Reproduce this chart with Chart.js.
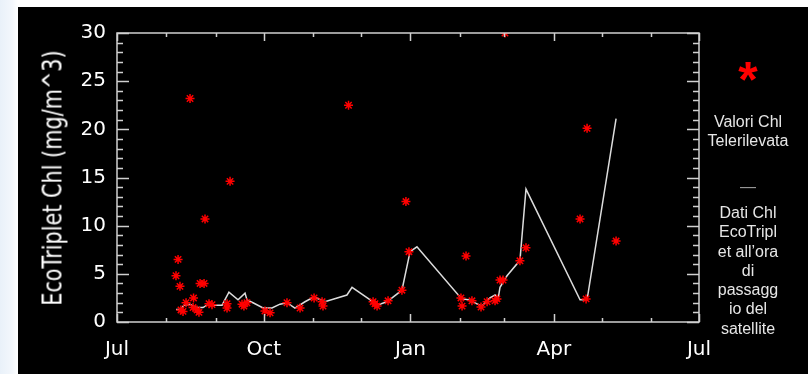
<!DOCTYPE html>
<html>
<head>
<meta charset="utf-8">
<script src="https://cdn.jsdelivr.net/npm/chart.js@4/dist/chart.umd.min.js"></script>
<style>
  html, body { margin: 0; padding: 0; }
  body {
    width: 808px; height: 374px; position: relative; overflow: hidden;
    background: linear-gradient(90deg, #e9f1f9 0px, #f3f7fc 12px, #ffffff 18px);
  }
  #panel { position: absolute; left: 18px; top: 7px; width: 790px; height: 367px; background: #000; }
  #chl { position: absolute; left: 0; top: 0; }
  #ytitle {
    position: absolute; left: 52px; top: 178px; color: #fff;
    font-family: "DejaVu Sans", sans-serif; font-size: 27px; white-space: nowrap;
    transform: translate(-50%, -50%) rotate(-90deg) scaleX(0.77);
  }
  .leg { position: absolute; color: #e6e6e6; font-family: "Liberation Sans", Arial, sans-serif;
         font-size: 16px; line-height: 19.3px; text-align: center; width: 100px; left: 698px; }
  #star { position: absolute; left: 698px; width: 100px; top: 55px; text-align: center;
          color: #ff0000; font-family: "Liberation Sans", Arial, sans-serif; font-size: 50px; font-weight: bold; line-height: 50px; }
</style>
</head>
<body>
<div id="panel"><canvas id="chl" width="790" height="367"></canvas></div>
<div id="ytitle">EcoTriplet Chl (mg/m^3)</div>
<div id="star">*</div>
<div class="leg" style="top:112px">Valori Chl<br>Telerilevata</div>
<div class="leg" style="top:177px; color:#9a9a9a">&mdash;</div>
<div class="leg" style="top:203px">Dati Chl<br>EcoTripl<br>et all’ora<br>di<br>passagg<br>io del<br>satellite</div>

<script>
// days counted from 1 July
const monthStarts = [0, 31, 62, 92, 123, 153, 184, 215, 243, 274, 304, 335, 365];
const xTickDays = [0, 92, 184, 274, 365];
const xTickLabels = ['Jul', 'Oct', 'Jan', 'Apr', 'Jul'];
const yTicks = [0, 5, 10, 15, 20, 25, 30];

// satellite values (red asterisks)
const satDays = [38.3, 37.0, 39.5, 45.8, 43.3, 40.1, 41.4, 48.0, 47.7, 50.2, 51.4, 52.1, 54.6, 55.2,
  57.7, 59.6, 69.0, 69.0, 70.9, 78.4, 79.6, 81.5, 92.8, 96.0, 106.6, 114.8, 123.6, 128.6, 129.2,
  145.2, 160.6, 161.8, 163.1, 170.0, 178.7, 181.2, 183.1, 215.7, 216.4, 218.9, 222.6, 228.3, 232.1,
  237.1, 238.3, 240.2, 242.1, 243.3, 252.7, 256.5, 290.4, 294.8, 294.2, 313.0];
const satChl = [6.5, 4.8, 3.7, 23.2, 2.0, 1.25, 1.1, 2.5, 1.5, 1.25, 1.0, 4.0, 4.0, 10.7,
  1.9, 1.8, 1.9, 1.45, 14.6, 1.85, 1.65, 2.0, 1.15, 0.95, 2.0, 1.45, 2.5, 2.1, 1.65,
  22.5, 2.1, 1.9, 1.65, 2.2, 3.3, 12.5, 7.3, 2.5, 1.65, 6.85, 2.2, 1.55, 2.1,
  2.2, 2.4, 4.35, 4.35, 30.0, 6.35, 7.7, 10.7, 20.1, 2.4, 8.4];

// EcoTriplet at satellite pass time (white line)
const ecoDays = [37.0, 40.1, 42.0, 45.8, 49.5, 53.9, 56.4, 65.9, 70.2, 75.9, 80.3, 81.5, 85.3, 91.6,
  97.2, 102.2, 106.6, 111.6, 117.9, 123.6, 130.4, 144.2, 147.4, 160.6, 163.1, 169.3, 178.7, 183.8,
  188.1, 215.1, 217.0, 220.1, 228.9, 233.9, 237.1, 239.0, 240.2, 244.6, 252.7, 256.5, 290.4, 294.8, 313.0];
const ecoChl = [1.3, 1.3, 1.75, 1.85, 1.5, 1.5, 1.75, 1.75, 3.1, 2.3, 3.0, 2.3, 2.0, 1.45,
  1.45, 1.85, 2.0, 1.45, 2.1, 2.6, 2.1, 2.8, 3.6, 2.1, 1.75, 2.1, 3.3, 7.3,
  7.8, 2.6, 2.4, 2.3, 1.65, 2.5, 2.8, 2.4, 3.6, 4.8, 6.4, 13.8, 2.3, 2.3, 21.1];

const axisColor = '#d0d0d0';

// box and inward ticks, like the original plot
const frame = {
  id: 'frame',
  afterDraw(chart) {
    const { ctx, chartArea: a, scales: { x, y } } = chart;
    ctx.save();
    ctx.strokeStyle = axisColor;
    ctx.lineWidth = 1.5;
    ctx.strokeRect(a.left, a.top, a.right - a.left, a.bottom - a.top);
    ctx.beginPath();
    for (let v = 0; v <= 30; v++) {
      const py = Math.round(y.getPixelForValue(v)) + 0.5;
      const len = v % 5 === 0 ? 12 : 6;
      ctx.moveTo(a.left, py); ctx.lineTo(a.left + len, py);
      ctx.moveTo(a.right, py); ctx.lineTo(a.right - len, py);
    }
    monthStarts.forEach(d => {
      const px = Math.round(x.getPixelForValue(d)) + 0.5;
      const len = xTickDays.includes(d) ? 8 : 4;
      ctx.moveTo(px, a.bottom); ctx.lineTo(px, a.bottom - len);
      ctx.moveTo(px, a.top); ctx.lineTo(px, a.top + len);
    });
    ctx.stroke();
    ctx.restore();
  }
};

const ctx = document.getElementById('chl').getContext('2d');
new Chart(ctx, {
  type: 'scatter',
  data: {
    datasets: [
      {
        label: 'Valori Chl Telerilevata',
        data: satDays.map((d, i) => ({ x: d, y: satChl[i] })),
        pointStyle: 'star', pointRadius: 4.5, borderColor: '#ff0000', borderWidth: 1.5,
        order: 0
      },
      {
        type: 'line',
        label: 'Dati Chl EcoTriplet',
        data: ecoDays.map((d, i) => ({ x: d, y: ecoChl[i] })),
        borderColor: '#dcdcdc', borderWidth: 1.5, pointRadius: 0, tension: 0, fill: false,
        order: 1
      }
    ]
  },
  options: {
    responsive: false,
    animation: false,
    layout: { padding: { top: 26, right: 109, left: 0, bottom: 0 } },
    plugins: { legend: { display: false }, tooltip: { enabled: false } },
    scales: {
      x: {
        type: 'linear', min: 0, max: 365,
        grid: { display: false }, border: { display: false },
        afterBuildTicks: s => { s.ticks = xTickDays.map(v => ({ value: v })); },
        afterFit: s => { s.height = 52; },
        ticks: {
          color: '#ffffff', padding: 8, maxRotation: 0, autoSkip: false,
          font: { family: 'DejaVu Sans', size: 20 },
          callback: v => xTickLabels[xTickDays.indexOf(v)]
        }
      },
      y: {
        min: 0, max: 30,
        grid: { display: false }, border: { display: false },
        afterBuildTicks: s => { s.ticks = yTicks.map(v => ({ value: v })); },
        afterFit: s => { s.width = 99; },
        ticks: {
          color: '#ffffff', padding: 3,
          font: { family: 'DejaVu Sans', size: 20 }
        }
      }
    }
  },
  plugins: [frame]
});
</script>
</body>
</html>
